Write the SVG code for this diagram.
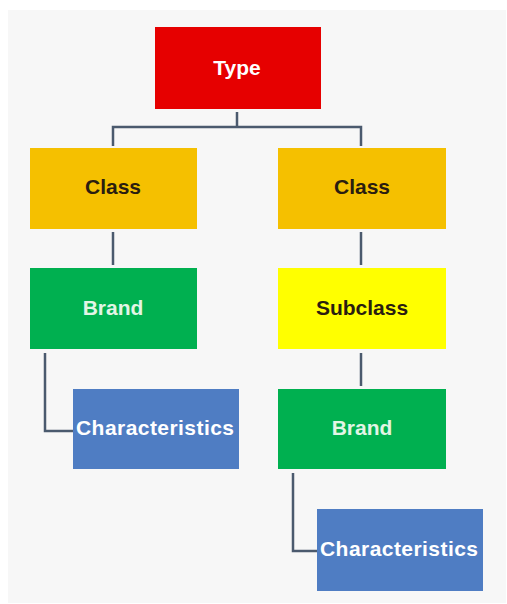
<svg xmlns="http://www.w3.org/2000/svg" width="507" height="604" viewBox="0 0 507 604">
<style>
.lbl{font-family:"Liberation Sans",Arial,sans-serif;font-weight:bold;font-size:21px;text-anchor:middle}
.w{fill:#ffffff}
.dk{fill:#2a1d10}
.lg{fill:#e2f5e6}
.con{fill:none;stroke:#4b5a6e;stroke-width:2.5}
</style>
<rect x="0" y="0" width="507" height="604" fill="#ffffff"/>
<rect x="8" y="10" width="498" height="593" fill="#f7f7f7"/>
<g id="connectors">
<path class="con" d="M237,112 V127 M113,146 V127 H361 V146"/>
<path class="con" d="M113,232 V265"/>
<path class="con" d="M361,232 V265"/>
<path class="con" d="M45,353 V431 H73"/>
<path class="con" d="M361,353 V386"/>
<path class="con" d="M293,473 V551 H317"/>
</g>
<g id="type"><rect x="155" y="27" width="166" height="82" fill="#e60000"/><text class="lbl w" x="237" y="75">Type</text></g>
<g id="class-left"><rect x="30" y="148" width="167" height="81" fill="#f5c000"/><text class="lbl dk" x="113" y="194">Class</text></g>
<g id="class-right"><rect x="278" y="148" width="168" height="81" fill="#f5c000"/><text class="lbl dk" x="362" y="194">Class</text></g>
<g id="brand-left"><rect x="30" y="268" width="167" height="81" fill="#00b050"/><text class="lbl lg" x="113" y="315">Brand</text></g>
<g id="subclass"><rect x="278" y="268" width="168" height="81" fill="#ffff00"/><text class="lbl dk" x="362" y="315">Subclass</text></g>
<g id="characteristics-left"><rect x="73" y="389" width="166" height="80" fill="#4f7dc3"/><text class="lbl w" x="155" y="435" textLength="158" lengthAdjust="spacing">Characteristics</text></g>
<g id="brand-right"><rect x="278" y="389" width="168" height="80" fill="#00b050"/><text class="lbl lg" x="362" y="435">Brand</text></g>
<g id="characteristics-right"><rect x="317" y="509" width="166" height="82" fill="#4f7dc3"/><text class="lbl w" x="399" y="556" textLength="158" lengthAdjust="spacing">Characteristics</text></g>
</svg>
